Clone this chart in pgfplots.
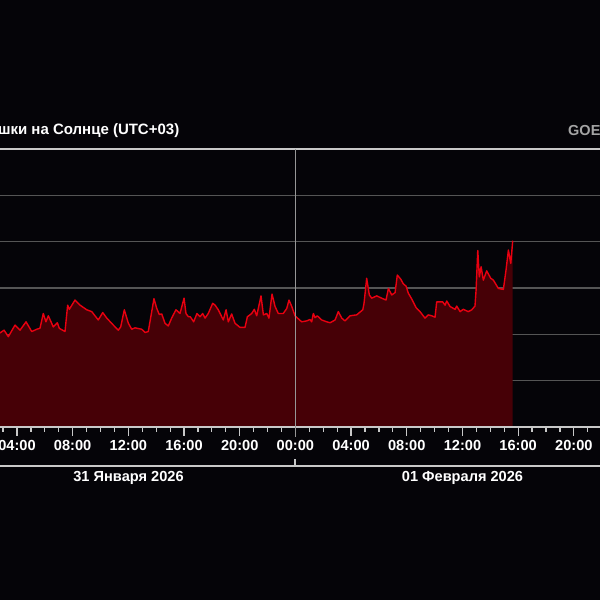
\documentclass[border=0pt]{standalone}
\usepackage{fontspec}
\setmainfont{Liberation Sans}
\usepackage{pgfplots}
\pgfplotsset{compat=1.18}
\usepackage{pgfplotstable}
\definecolor{bg}{RGB}{5,4,8}
\definecolor{fillred}{RGB}{70,0,6}
\definecolor{linered}{RGB}{232,0,16}
\definecolor{gridgray}{RGB}{85,85,85}
\definecolor{lightline}{RGB}{200,200,200}
\definecolor{midline}{RGB}{150,150,150}
\definecolor{goesgray}{RGB}{165,165,165}
% hours since 31 Jan 00:00 (UTC+03), log10 of X-ray flux
\pgfplotstableread{
h y
2.78 -6.97
3.07 -6.91
3.38 -7.05
3.86 -6.80
4.22 -6.91
4.65 -6.73
5.06 -6.94
5.42 -6.89
5.65 -6.87
5.89 -6.55
6.08 -6.73
6.25 -6.60
6.61 -6.84
6.90 -6.75
7.04 -6.87
7.45 -6.94
7.64 -6.37
7.76 -6.46
8.17 -6.26
8.53 -6.37
9.01 -6.47
9.37 -6.51
9.84 -6.69
10.16 -6.53
10.45 -6.65
10.92 -6.80
11.28 -6.91
11.45 -6.84
11.71 -6.47
12.00 -6.76
12.24 -6.89
12.48 -6.86
12.96 -6.89
13.20 -6.96
13.43 -6.94
13.84 -6.23
14.04 -6.44
14.22 -6.57
14.40 -6.56
14.63 -6.76
14.87 -6.82
15.11 -6.65
15.42 -6.47
15.71 -6.55
16.00 -6.22
16.14 -6.55
16.31 -6.62
16.45 -6.62
16.69 -6.73
16.93 -6.55
17.15 -6.62
17.34 -6.55
17.51 -6.65
17.74 -6.55
18.06 -6.33
18.23 -6.37
18.46 -6.47
18.82 -6.69
19.02 -6.47
19.18 -6.73
19.42 -6.56
19.66 -6.76
20.02 -6.85
20.38 -6.85
20.55 -6.62
20.86 -6.55
21.05 -6.46
21.22 -6.60
21.53 -6.17
21.70 -6.58
21.94 -6.55
22.10 -6.65
22.32 -6.13
22.54 -6.40
22.77 -6.55
23.13 -6.55
23.38 -6.44
23.54 -6.26
23.74 -6.40
23.97 -6.60
24.45 -6.73
24.81 -6.71
25.05 -6.68
25.17 -6.73
25.29 -6.55
25.41 -6.64
25.57 -6.60
25.89 -6.69
26.25 -6.73
26.49 -6.75
26.85 -6.69
27.08 -6.51
27.33 -6.65
27.56 -6.71
27.92 -6.60
28.40 -6.58
28.84 -6.47
28.93 -6.33
29.12 -5.79
29.31 -6.15
29.48 -6.22
29.84 -6.17
30.20 -6.22
30.51 -6.26
30.68 -6.01
30.92 -6.15
31.16 -6.10
31.32 -5.72
31.57 -5.81
31.75 -5.91
31.95 -5.96
32.11 -6.11
32.36 -6.24
32.66 -6.42
32.95 -6.51
33.31 -6.65
33.55 -6.58
33.79 -6.60
34.03 -6.63
34.15 -6.30
34.58 -6.30
34.75 -6.37
34.87 -6.28
35.11 -6.40
35.47 -6.46
35.59 -6.39
35.83 -6.51
36.06 -6.46
36.42 -6.51
36.67 -6.47
36.90 -6.39
36.98 -6.04
37.10 -5.19
37.21 -5.76
37.34 -5.54
37.50 -5.83
37.74 -5.63
38.03 -5.79
38.22 -5.83
38.58 -6.01
38.94 -6.03
39.13 -5.61
39.30 -5.18
39.47 -5.47
39.61 -4.98
}\flux
\begin{document}
\begin{tikzpicture}
\fill[bg] (0pt,0pt) rectangle (600pt,600pt);
\begin{axis}[
  at={(0pt,173pt)}, anchor=south west,
  scale only axis, width=600pt, height=278pt,
  xmin=2.78, xmax=45.88, ymin=-9, ymax=-3,
  axis line style={draw=none},
  xtick={4,8,...,44},
  xticklabels={04:00,08:00,12:00,16:00,20:00,00:00,04:00,08:00,12:00,16:00,20:00},
  minor xtick={3,4,...,45},
  xtick pos=bottom, tick align=outside,
  major tick length=9pt, minor tick length=5pt,
  every tick/.style={lightline, line width=1.2pt},
  xticklabel style={anchor=base, yshift=-15pt, text=white,
    font=\fontsize{14.6}{14}\selectfont\bfseries},
  ytick={-8,-7,-6,-5,-4}, yticklabels={}, ytick style={draw=none},
  ymajorgrids, grid style={gridgray, line width=1.3pt},
  clip=false,
]
\addplot[fill=fillred, draw=none, forget plot] table[x=h, y=y]{\flux}
  -- (axis cs:39.61,-9) -- (axis cs:2.78,-9) -- cycle;
\addplot[linered, line width=1.4pt, line join=round] table[x=h, y=y]{\flux};
\draw[lightline, line width=1.6pt] (rel axis cs:0,1) -- (rel axis cs:1,1);
\draw[lightline, line width=1.6pt] (rel axis cs:0,0) -- (rel axis cs:1,0);
\draw[midline, line width=1.3pt] (axis cs:24,-3) -- ([yshift=-10pt]axis cs:24,-9);
\end{axis}
\draw[lightline, line width=1.6pt] (0pt,134pt) -- (600pt,134pt);
\draw[lightline, line width=1.3pt] (295pt,134pt) -- (295pt,141pt);
\node[anchor=base, text=white, font=\fontsize{14.6}{14}\selectfont\bfseries] at (128.5pt,118.5pt) {31 Января 2026};
\node[anchor=base, text=white, font=\fontsize{14.6}{14}\selectfont\bfseries] at (462.5pt,118.5pt) {01 Февраля 2026};
\node[overlay, anchor=base east, inner sep=0pt, text=white, font=\fontsize{15}{14}\selectfont\bfseries] at (179.5pt,465pt) {Вспышки на Солнце (UTC+03)};
\node[overlay, anchor=base west, inner sep=0pt, text=goesgray, font=\fontsize{14.5}{14}\selectfont\bfseries] at (568pt,464pt) {GOES};
\pgfresetboundingbox
\useasboundingbox (0pt,0pt) rectangle (600pt,600pt);
\end{tikzpicture}
\end{document}
